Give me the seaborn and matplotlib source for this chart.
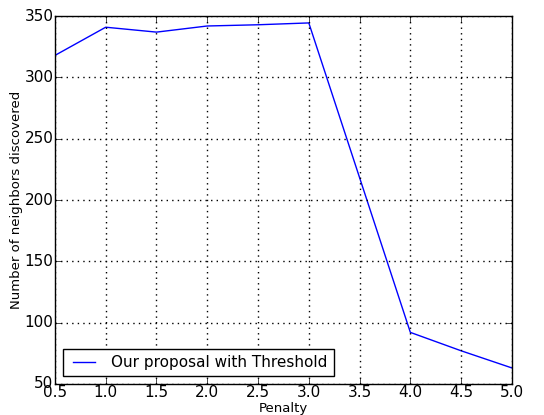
import matplotlib
matplotlib.use("Agg")
from matplotlib import pyplot as plt
import seaborn as sns
import pandas as pd

penalty = [0.5, 1.0, 1.5, 2.0, 2.5, 3.0, 4.0, 4.5, 5.0]
neighbors = [318, 341, 337, 342, 343, 344.5, 92, 77, 63]

df = pd.DataFrame({"Penalty": penalty, "neighbors": neighbors})

plt.style.use("classic")
plt.rcParams["font.family"] = ["DejaVu Sans"]

fig = plt.figure(figsize=(5.44, 4.15), dpi=100, facecolor="white")
ax = fig.add_axes([0.101, 0.075, 0.840, 0.886])
sns.lineplot(data=df, x="Penalty", y="neighbors", color="blue", linewidth=1,
             label="Our proposal with Threshold", ax=ax)
ax.set_xlim([0.5, 5.0])
ax.set_ylim([50, 350])
ax.set_xticks([0.5, 1.0, 1.5, 2.0, 2.5, 3.0, 3.5, 4.0, 4.5, 5.0])
ax.set_yticks([50, 100, 150, 200, 250, 300, 350])
ax.tick_params(labelsize=11, pad=1)
ax.set_xlabel("Penalty", fontsize=9.5)
ax.set_ylabel("Number of neighbors discovered", fontsize=9.5)
ax.xaxis.set_label_coords(0.5, -0.048)
ax.yaxis.set_label_coords(-0.07, 0.5)
ax.grid(True, color="black", linestyle=":", linewidth=1)
ax.legend(loc="lower left", fontsize=11, fancybox=False, frameon=True)
fig.savefig("out.png", dpi=100, facecolor="white")
